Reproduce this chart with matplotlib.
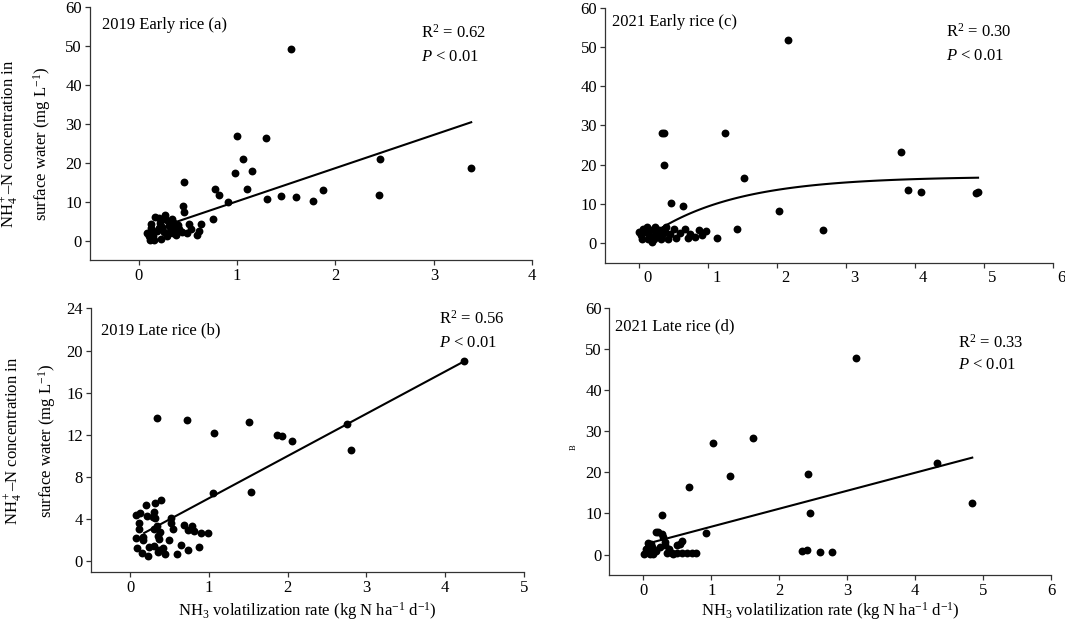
import numpy as np
import matplotlib
matplotlib.use("Agg")
import matplotlib.pyplot as plt
import matplotlib.transforms as mtransforms

plt.rcParams['font.family'] = ['Liberation Serif', 'DejaVu Serif']
plt.rcParams['mathtext.fontset'] = 'custom'
plt.rcParams['mathtext.rm'] = 'Liberation Serif'
plt.rcParams['mathtext.it'] = 'Liberation Serif:italic'

# 2019 early rice (a)
x_a = [1.55, 1.00, 1.29, 1.06, 1.15, 0.98, 1.10, 2.45, 3.38, 2.44, 1.87, 1.77, 1.60, 1.45,
       1.30, 0.91, 0.78, 0.82, 0.76, 0.46, 0.45, 0.46, 0.63, 0.61, 0.59, 0.51, 0.49, 0.53,
       0.08, 0.11, 0.12, 0.17, 0.21, 0.27, 0.27, 0.34, 0.36, 0.31, 0.24, 0.19, 0.23, 0.29,
       0.38, 0.41, 0.44, 0.40, 0.14, 0.10, 0.15, 0.21, 0.33, 0.35, 0.31, 0.26, 0.16, 0.38,
       0.30, 0.22, 0.12]
y_a = [49.1, 26.9, 26.4, 21.0, 18.0, 17.3, 13.4, 21.0, 18.6, 11.8, 13.1, 10.3, 11.3, 11.5,
       10.7, 10.0, 13.2, 11.8, 5.5, 15.0, 8.9, 7.5, 4.2, 2.4, 1.4, 4.2, 2.0, 2.9,
       2.0, 0.3, 4.3, 6.1, 5.9, 6.7, 5.5, 5.5, 4.6, 3.9, 3.5, 2.4, 0.4, 1.1,
       1.4, 2.9, 2.3, 4.0, 1.1, 1.1, 2.0, 3.2, 2.9, 2.0, 2.0, 2.2, 0.3, 3.3,
       5.0, 4.5, 3.3]

# 2019 late rice (b)
x_b = [4.24, 0.34, 0.72, 1.51, 1.06, 1.86, 1.93, 2.05, 2.75, 2.81, 1.05, 1.54,
       0.20, 0.32, 0.39, 0.07, 0.13, 0.12, 0.12, 0.21, 0.30, 0.32, 0.29, 0.34, 0.31, 0.38,
       0.36, 0.37, 0.49, 0.52, 0.52, 0.54, 0.68, 0.74, 0.79, 0.81, 0.90, 0.99, 0.07, 0.17,
       0.16, 0.09, 0.15, 0.23, 0.24, 0.30, 0.37, 0.42, 0.44, 0.36, 0.59, 0.65, 0.74, 0.88]
y_b = [19.0, 13.6, 13.4, 13.2, 12.2, 12.0, 11.9, 11.45, 13.06, 10.6, 6.5, 6.6,
       5.4, 5.5, 5.8, 4.4, 4.6, 3.6, 3.1, 4.3, 4.7, 4.1, 4.2, 3.4, 3.1, 2.8,
       2.4, 2.1, 2.0, 4.1, 3.6, 3.05, 3.5, 3.0, 3.4, 2.9, 2.7, 2.7, 2.2, 2.0,
       2.35, 1.3, 0.8, 0.55, 1.4, 1.5, 1.1, 1.3, 0.7, 0.9, 0.7, 1.6, 1.06, 1.4]

# 2021 early rice (c)
x_c = [2.15, 0.33, 0.36, 1.25, 0.36, 3.80, 1.52, 3.90, 4.09, 4.88, 4.91, 2.03, 2.66, 1.42,
       1.13, 0.97, 0.46, 0.64, 0.91, 0.86, 0.81, 0.74, 0.71, 0.66, 0.59, 0.51, 0.53, 0.44,
       0.39, 0.00, 0.04, 0.11, 0.14, 0.18, 0.23, 0.26, 0.31, 0.38, 0.41, 0.09, 0.06, 0.16,
       0.20, 0.25, 0.33, 0.03, 0.13, 0.21, 0.29, 0.36]
y_c = [51.7, 28.0, 28.0, 28.0, 20.0, 23.2, 16.7, 13.5, 13.1, 12.8, 13.1, 8.2, 3.4, 3.5,
       1.4, 3.0, 10.1, 9.5, 2.0, 3.3, 1.6, 2.4, 1.4, 3.6, 2.7, 3.6, 1.4, 2.4,
       4.2, 2.9, 1.1, 4.2, 2.0, 0.3, 4.2, 2.2, 1.1, 2.9, 1.0, 2.9, 3.7, 3.3,
       1.6, 2.9, 2.0, 2.0, 1.1, 1.0, 3.3, 3.7]

# 2021 late rice (d)
x_d = [3.13, 1.02, 1.61, 4.32, 1.28, 2.42, 0.67, 4.84, 2.45, 0.27, 0.92, 2.34, 2.41, 2.60,
       2.77, 0.22, 0.27, 0.29, 0.32, 0.57, 0.54, 0.77, 0.72, 0.64, 0.57, 0.49, 0.42, 0.34,
       0.065, 0.04, 0.11, 0.14, 0.19, 0.24, 0.37, 0.065, 0.015, 0.07, 0.12, 0.14, 0.18,
       0.32, 0.44, 0.50, 0.09, 0.04, 0.12]
y_d = [47.8, 27.2, 28.3, 22.4, 19.1, 19.5, 16.5, 12.5, 10.1, 9.7, 5.2, 0.75, 1.0, 0.5,
       0.5, 5.5, 5.0, 4.2, 3.0, 3.4, 2.6, 0.35, 0.35, 0.35, 0.35, 0.35, 0.35, 0.35,
       1.75, 0.7, 2.6, 1.35, 0.9, 1.75, 1.35, 2.8, 0.1, 0.5, 1.75, 0.1, 5.5,
       2.2, 0.1, 2.3, 0.1, 1.3, 0.9]

# fitted curves
fit_a = (8.52, 1.6, 0.40, 3.38)      # slope, intercept, x start, x end
fit_b = (4.01, 1.98, 0.18, 4.24)
fit_c = (17.0, 0.8, 0.33, 4.91)      # ymax, rate, x start, x end  (ymax*(1-exp(-k x)))
fit_d = (4.38, 2.4, 0.09, 4.84)

ylab1 = r"NH$_4^+$–N concentration in"
ylab2 = r"surface water (mg L$^{-1}$)"
xlab = r"NH$_3$ volatilization rate (kg N ha$^{-1}$ d$^{-1}$)"

fig = plt.figure(figsize=(10.65, 6.23), dpi=100)
ax_a = fig.add_axes([0.0841, 0.5822, 0.4156, 0.4069])
ax_c = fig.add_axes([0.5678, 0.5782, 0.4212, 0.4097])
ax_b = fig.add_axes([0.0851, 0.0819, 0.4069, 0.4230])
ax_d = fig.add_axes([0.5723, 0.0770, 0.4146, 0.4283])


def style(ax, xlim, xticks, ylim, yticks):
    ax.set_xlim(*xlim)
    ax.set_ylim(*ylim)
    ax.set_xticks(xticks)
    ax.set_yticks(yticks)
    for s in ['top', 'right']:
        ax.spines[s].set_visible(False)
    for s in ['left', 'bottom']:
        ax.spines[s].set_linewidth(0.9)
        ax.spines[s].set_color('#333333')
    ax.tick_params(direction='out', length=3.5, width=0.9, labelsize=12, pad=2,
                   color='#333333')


def line_fit(ax, fit):
    k, b, x0, x1 = fit
    xs = np.linspace(x0, x1, 50)
    ax.plot(xs, k * xs + b, color='black', lw=1.5)


def labels(ax, title, r2, tpos, rpos, ppos):
    ax.text(tpos[0], tpos[1], title, transform=ax.transAxes, fontsize=12, va='center')
    ax.text(rpos[0], rpos[1], "R$^2$ = " + r2, transform=ax.transAxes, fontsize=12, va='center')
    ax.text(ppos[0], ppos[1], "$P$ < 0.01", transform=ax.transAxes, fontsize=12, va='center')


# (a)
style(ax_a, (-0.5, 4), [0, 1, 2, 3, 4], (-5, 60), range(0, 61, 10))
ax_a.scatter(x_a, y_a, s=32, color='black', linewidths=0, zorder=3)
line_fit(ax_a, fit_a)
labels(ax_a, "2019 Early rice (a)", "0.62", (0.027, 0.927), (0.749, 0.897), (0.749, 0.803))
ax_a.text(-0.18, 0.46, ylab1, transform=ax_a.transAxes, rotation=90, fontsize=12,
          ha='center', va='center')
ax_a.text(-0.107, 0.46, ylab2, transform=ax_a.transAxes, rotation=90, fontsize=12,
          ha='center', va='center')

# (c)
style(ax_c, (-0.5, 6), [0, 1, 2, 3, 4, 5, 6], (-5, 60), range(0, 61, 10))
ax_c.scatter(x_c, y_c, s=32, color='black', linewidths=0, zorder=3)
ymax, rate, x0, x1 = fit_c
xs = np.linspace(x0, x1, 100)
ax_c.plot(xs, ymax * (1 - np.exp(-rate * xs)), color='black', lw=1.5)
labels(ax_c, "2021 Early rice (c)", "0.30", (0.016, 0.942), (0.76, 0.906), (0.76, 0.811))
# tick labels in this panel sit a little right of their ticks
shift = mtransforms.ScaledTranslation(8 / 100, 0, fig.dpi_scale_trans)
for lab in ax_c.get_xticklabels():
    lab.set_transform(lab.get_transform() + shift)

# (b)
style(ax_b, (-0.5, 5), [0, 1, 2, 3, 4, 5], (-1, 24), range(0, 25, 4))
ax_b.scatter(x_b, y_b, s=32, color='black', linewidths=0, zorder=3)
line_fit(ax_b, fit_b)
labels(ax_b, "2019 Late rice (b)", "0.56", (0.025, 0.917), (0.803, 0.96), (0.803, 0.869))
ax_b.text(-0.178, 0.499, ylab1, transform=ax_b.transAxes, rotation=90, fontsize=12,
          ha='center', va='center')
ax_b.text(-0.10, 0.499, ylab2, transform=ax_b.transAxes, rotation=90, fontsize=12,
          ha='center', va='center')
ax_b.set_xlabel(xlab, fontsize=12, labelpad=3)

# (d)
style(ax_d, (-0.5, 6), [0, 1, 2, 3, 4, 5, 6], (-5, 60), range(0, 61, 10))
ax_d.scatter(x_d, y_d, s=32, color='black', linewidths=0, zorder=3)
line_fit(ax_d, fit_d)
labels(ax_d, "2021 Late rice (d)", "0.33", (0.013, 0.93), (0.79, 0.87), (0.79, 0.786))
ax_d.text(-0.08, 0.479, "B", transform=ax_d.transAxes, rotation=90, fontsize=6,
          ha='center', va='center')
ax_d.set_xlabel(xlab, fontsize=12, labelpad=1)

fig.savefig("out.png", dpi=100)
